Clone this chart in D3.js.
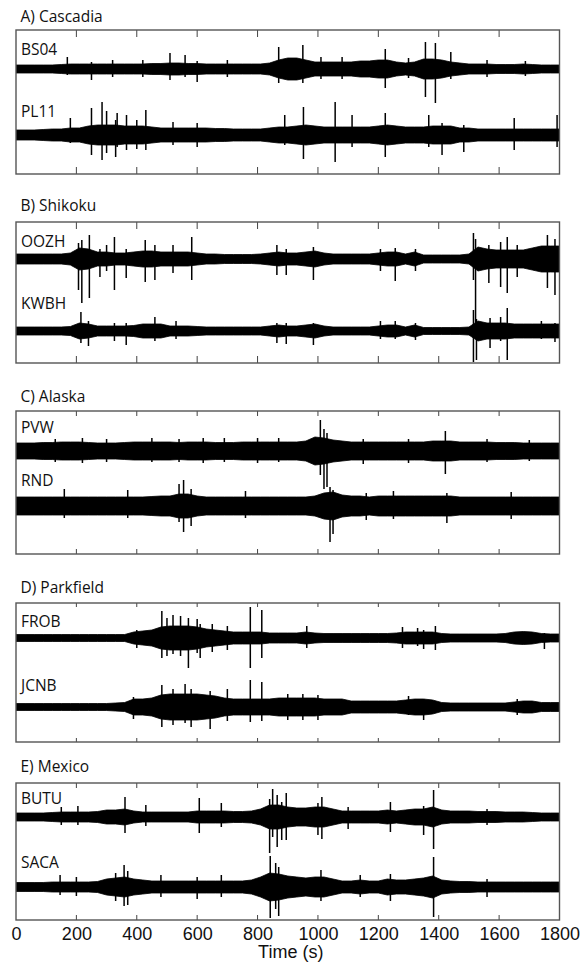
<!DOCTYPE html>
<html><head><meta charset="utf-8">
<script src="https://cdn.jsdelivr.net/npm/d3@7"></script>
<style>body{margin:0;background:#fff}svg{display:block}</style>
</head><body>
<script>
// ---------- DATA ----------
const coreTimes = d3.range(0, 1801, 30);   // envelope sample times (s)
const xTicks = [0,200,400,600,800,1000,1200,1400,1600,1800];
const panelTitles = ["A) Cascadia","B) Shikoku","C) Alaska","D) Parkfield","E) Mexico"];
const stationNames = [["BS04","PL11"],["OOZH","KWBH"],["PVW","RND"],["FROB","JCNB"],["BUTU","SACA"]];

// half-amplitude envelopes, one value per 30 s
const BS04_env = [4,4,4,4,4,4.5,5,5,5,5,5,5,5,5,5,5.5,5.5,6,6,5.5,5.5,5,5,5,5,5,5,5,6,9,11,11,9,7,7,7,7,7,8,8,9,9,7,6,7,10,10,9,7,6,5,5,5,4.5,4.5,4.5,5,4.5,4,4,4];
const PL11_env = [5,5,5,5.5,6,6,7,7,9,10,10,10,9,9,9,8,7,7,7,7,7,7,6.5,6.5,6,6,6,6,7,8,8,9,10,9,8,8,8,8,8,8,9,10,9,8,8,8,9,9,9,7,7,6,6,6,6,6,6,6,6,6,6];
const OOZH_env = [5,5,5,5,5,5,6,11,10,7,7,6,6,7,8,8,7,7,7,7,6,5,5,4.5,4.5,4.5,4.5,5,6,7,6,6,7,8,6,5,5,5,5,5,6,7,7,5,7,4,4,4,4,4,5,12,10,9,9,9,9,11,13,13,13];
const KWBH_env = [4,4,4,4,4,4,4.5,8,7,5,5,5,5,5.5,7,7,7,5,5,5,4.5,4,4,4,4,4,4,4,5,6,5,5,6,7,5,4,4,4,4,4,5,6,6,4,6,3.5,3.5,3.5,3.5,3.5,4,10,8,8,8,7,7,7,7,7,7];
const PVW_env  = [8,8,8,8.5,8.5,9,9,9,8.5,8,8,8,8.5,9,9,9,9,9,8.5,9,9,9,8.5,8.5,8.5,9,9,9,9,9,9,9,10,14,13,11,10,9,9,9,9,9,9,9,9,9,10,10,10,9,9,9,9,8.5,8.5,8.5,8,8,8,8,8];
const RND_env  = [9,9,9,9,9,9,9,9,9,9,9,9,9,9,9,9.5,10,10,12,12,10,9,9,9,9,9,9,9,9,9,9,9,9,10,13,14,11,10,10,9,10,10,10,10,10,10,10,10,10,9,9,9,9,9,9,9,9,9,9,9,9];
const FROB_env = [3.5,3.5,3.5,3.5,3.5,3.5,3.5,3.5,3.5,3.5,3.5,3.5,3.5,6,7,8,11,12,12,12,11,9,8,7,6,6,6,6,5,5,5,5,6,5,4.5,4.5,4.5,4.5,4.5,4.5,4.5,4.5,5,6,6,6,6,4.5,4,4,4,4,4,4,4.5,6,6.5,6,4.5,4,4];
const JCNB_env = [3.5,3.5,3.5,3.5,3.5,3.5,3.5,3.5,3.5,3.5,3.5,4,4.5,8,8,9,12,13,13,13,13,12,11,9,8,8,8,8,8,9,9,9,9,9,8,8,8,6,6,6,6,6,6,7,8,8,7,4.5,4,4,4,4,4,4,4,5,6,6,4.5,4.5,4.5];
const BUTU_env = [4,4,4,4,4.5,5,5,5,5,5.5,7,7,8,6,5,5,5,5,5,5,6,6,6,6,5.5,5.5,6,8,12,12,10,9,9,10,10,8,6,6,6,6,6,7,6,7,8,8,10,7,6,6,6,5.5,5.5,5.5,5,5,5,4.5,4,4,4];
const SACA_env = [4.5,4.5,4.5,4.5,5,5,5,5,5,5.5,8,9,10,8,7,6,6,6,6,6,6,6,6,6,6,6,7,10,14,13,11,10,9,10,10,8,6,6,7,6,6,8,7,7,8,9,11,7,6,5.5,5.5,5,5,5,5,5,5,5,5,5,5];

// isolated spikes: [time (s), up, down]
const BS04_spk = [[170,12,6],[250,7,11],[320,9,8],[420,9,8],[510,16,11],[560,14,8],[600,8,13],[700,9,8],[870,22,14],[950,24,14],[1010,12,10],[1080,12,10],[1223,20,19],[1300,11,9],[1356,27,28],[1389,26,34],[1440,17,10],[1560,9,8],[1687,8,7]];
const PL11_spk = [[180,17,8],[250,27,20],[285,33,25],[300,24,18],[330,15,22],[335,22,12],[366,20,15],[400,15,14],[430,25,15],[520,13,10],[600,12,12],[890,20,10],[952,28,24],[1057,33,27],[1113,20,12],[1223,22,22],[1367,20,12],[1411,12,20],[1483,10,17],[1650,17,15],[1792,20,12]];
const OOZH_spk = [[207,16,31],[218,19,44],[243,24,39],[278,10,18],[300,14,12],[326,22,31],[365,10,19],[428,19,23],[460,14,21],[520,14,14],[582,22,21],[864,14,16],[895,10,16],[985,12,21],[1207,10,12],[1256,11,22],[1323,10,12],[1515,26,21],[1522,20,64],[1566,14,24],[1605,17,28],[1627,22,34],[1660,14,18],[1760,24,29],[1785,20,36]];
const KWBH_spk = [[215,19,12],[240,10,15],[326,8,10],[365,8,14],[460,14,10],[530,10,8],[864,8,12],[895,8,13],[985,8,14],[1207,10,8],[1256,10,8],[1323,8,9],[1515,21,31],[1525,12,29],[1570,13,17],[1605,14,10],[1627,23,29],[1740,10,8],[1785,8,11]];
const PVW_spk  = [[130,12,11],[220,13,12],[300,12,11],[450,13,11],[540,12,11],[620,13,12],[690,13,11],[800,13,12],[870,13,11],[1008,31,24],[1020,22,38],[1030,18,36],[1150,12,13],[1300,12,12],[1422,20,23],[1560,12,11],[1700,11,10]];
const RND_spk  = [[160,17,12],[370,16,12],[540,22,16],[555,26,26],[580,17,20],[760,15,12],[1040,19,36],[1050,16,28],[1160,13,14],[1250,15,13],[1427,13,17],[1640,14,13]];
const FROB_spk = [[400,8,10],[483,27,20],[500,20,18],[520,23,16],[545,22,18],[571,20,30],[600,19,15],[610,14,20],[650,14,14],[700,12,12],[776,31,30],[814,28,20],[963,12,10],[1280,11,10],[1330,10,8],[1350,8,11],[1389,12,12],[1750,5,11]];
const JCNB_spk = [[389,10,12],[483,22,20],[520,18,18],[560,23,16],[580,18,20],[643,16,22],[700,18,14],[776,27,15],[814,25,14],[900,13,13],[950,13,13],[1000,12,13],[1300,11,8],[1350,8,13],[1660,8,8]];
const BUTU_spk = [[150,10,8],[205,11,8],[361,20,16],[430,12,9],[607,19,16],[680,14,10],[840,18,36],[850,28,20],[865,22,30],[880,15,23],[895,24,23],[1000,14,18],[1013,20,22],[1100,10,12],[1240,15,15],[1350,11,18],[1383,27,32],[1560,8,8]];
const SACA_spk = [[146,12,8],[200,10,9],[330,14,14],[358,22,19],[370,16,18],[480,12,10],[600,10,12],[680,12,10],[842,31,31],[860,24,22],[870,20,29],[1010,17,14],[1140,12,10],[1240,13,14],[1383,30,30],[1560,8,10]];

// ---------- LAYOUT ----------
const W = 582, H = 965;
const panels = [
  {top:30,  bottom:174, tick:7, titleY:22,  traces:[{env:BS04_env,spk:BS04_spk,cy:69, ly:55},{env:PL11_env,spk:PL11_spk,cy:135,ly:117}]},
  {top:222, bottom:363, tick:7, titleY:211, traces:[{env:OOZH_env,spk:OOZH_spk,cy:259,ly:247},{env:KWBH_env,spk:KWBH_spk,cy:331,ly:309}]},
  {top:411, bottom:554, tick:5, titleY:402, traces:[{env:PVW_env,spk:PVW_spk,cy:451,ly:433},{env:RND_env,spk:RND_spk,cy:506,ly:486}]},
  {top:603, bottom:742, tick:4, titleY:593, traces:[{env:FROB_env,spk:FROB_spk,cy:638,ly:627},{env:JCNB_env,spk:JCNB_spk,cy:707,ly:691}]},
  {top:783, bottom:920, tick:5, titleY:772, traces:[{env:BUTU_env,spk:BUTU_spk,cy:817,ly:804},{env:SACA_env,spk:SACA_spk,cy:887,ly:868}]}
];
const left = 16, right = 559.5;
const x = d3.scaleLinear().domain([0,1800]).range([left,right]);

const svg = d3.select("body").append("svg").attr("width",W).attr("height",H);
const titleFont = "'Open Sans', Lato, sans-serif";

panels.forEach((p,pi) => {
  const h = p.bottom - p.top, mid = (p.top + p.bottom)/2;
  const y = d3.scaleLinear().domain([-h/2,h/2]).range([p.bottom,p.top]);
  const g = svg.append("g");
  g.append("text").attr("x",20.5).attr("y",p.titleY).text(panelTitles[pi])
    .attr("font-family",titleFont).attr("font-size",15.5).attr("fill","#111");

  const clipId = "clip"+pi;
  svg.append("clipPath").attr("id",clipId).append("rect")
    .attr("x",left).attr("y",p.top).attr("width",right-left).attr("height",h);
  const tg = g.append("g").attr("clip-path",`url(#${clipId})`);

  p.traces.forEach((tr,ti) => {
    const off = mid - tr.cy;
    const data = coreTimes.map((t,i)=>({t, a:tr.env[i]}));
    tg.append("path").datum(data)
      .attr("d", d3.area().x(d=>x(d.t)).y0(d=>y(off - d.a)).y1(d=>y(off + d.a)))
      .attr("fill","#000").attr("stroke","#000").attr("stroke-width",0.8);
    tg.selectAll(null).data(tr.spk).join("line")
      .attr("x1",d=>x(d[0])).attr("x2",d=>x(d[0]))
      .attr("y1",d=>y(off + d[1])).attr("y2",d=>y(off - d[2]))
      .attr("stroke","#000").attr("stroke-width",1.5);
    g.append("text").attr("x",21).attr("y",tr.ly).text(stationNames[pi][ti])
      .attr("font-family",titleFont).attr("font-size",15.5).attr("fill","#111");
  });

  // ticks inward top & bottom
  const inner = xTicks.slice(1,-1);
  g.selectAll(null).data(inner).join("line")
    .attr("x1",d=>x(d)).attr("x2",d=>x(d)).attr("y1",p.top).attr("y2",p.top+p.tick)
    .attr("stroke","#444").attr("stroke-width",1);
  g.selectAll(null).data(inner).join("line")
    .attr("x1",d=>x(d)).attr("x2",d=>x(d)).attr("y1",p.bottom).attr("y2",p.bottom-p.tick)
    .attr("stroke","#444").attr("stroke-width",1);
  g.append("rect").attr("x",left).attr("y",p.top).attr("width",right-left).attr("height",h)
    .attr("fill","none").attr("stroke","#555").attr("stroke-width",1.4);

  if (pi === panels.length-1) {
    const ax = d3.axisBottom(x).tickValues(xTicks).tickSize(0).tickPadding(0).tickFormat(d3.format("d"));
    const axg = svg.append("g").attr("transform",`translate(0,${p.bottom})`).call(ax);
    axg.select(".domain").remove();
    axg.selectAll("text").attr("font-family","'Liberation Sans', Arial, sans-serif")
      .attr("font-size",18).attr("fill","#111").attr("dy",0).attr("y",20);
    svg.append("text").attr("x",(left+right)/2+3).attr("y",958).attr("text-anchor","middle")
      .text("Time (s)").attr("font-family","'Liberation Sans', Arial, sans-serif")
      .attr("font-size",18).attr("fill","#111");
  }
});
</script>
</body></html>
